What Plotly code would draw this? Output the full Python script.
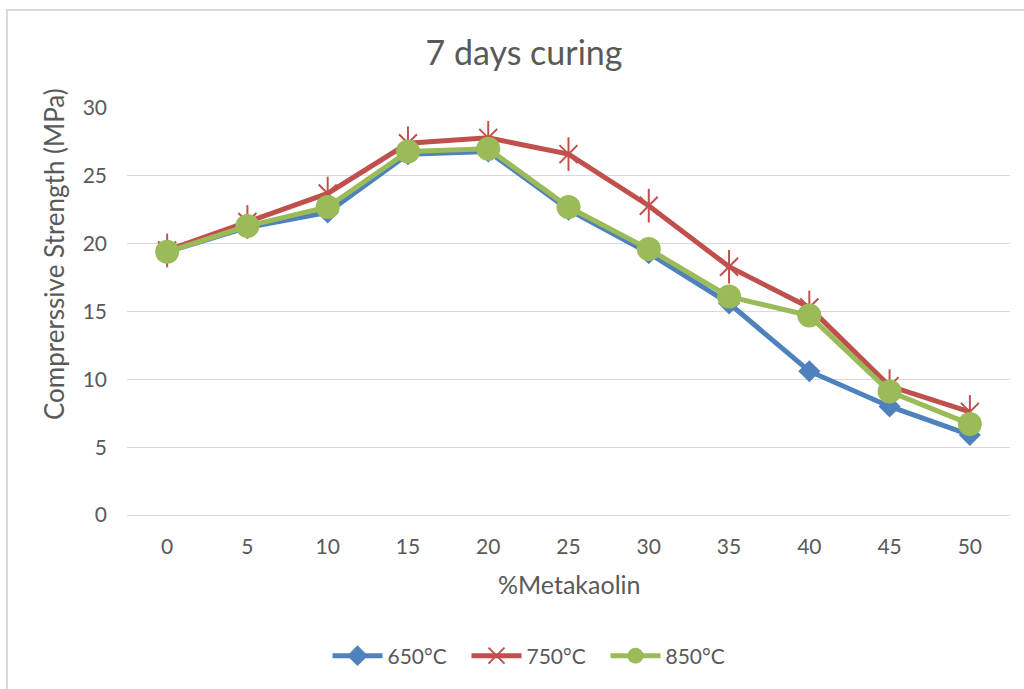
import plotly.graph_objects as go

# Metakaolin replacement level (%) and 7-day compressive strength (MPa)
metakaolin = [0, 5, 10, 15, 20, 25, 30, 35, 40, 45, 50]
strength_650 = [19.4, 21.2, 22.3, 26.6, 26.8, 22.5, 19.3, 15.6, 10.6, 8.0, 5.9]
strength_750 = [19.5, 21.6, 23.7, 27.4, 27.8, 26.6, 22.8, 18.3, 15.3, 9.5, 7.6]
strength_850 = [19.4, 21.3, 22.7, 26.8, 27.0, 22.7, 19.6, 16.1, 14.7, 9.1, 6.7]

y_ticks = [0, 5, 10, 15, 20, 25, 30]

BLUE = "#4F81BD"
RED = "#C0504D"
GREEN = "#9BBB59"
TEXT = "#595959"
GRID = "#D9D9D9"
FONT = "Lato, Open Sans, sans-serif"

W, H = 1024, 689
L, R, T, B = 127, 14, 108, 174
pw, ph = W - L - R, H - T - B


def px_x(x):
    return (x - L) / pw


def px_y(y):
    return (H - B - y) / ph


fig = go.Figure()

fig.add_trace(go.Scatter(
    x=metakaolin, y=strength_650, name="650°C", mode="lines+markers",
    line=dict(color=BLUE, width=5),
    marker=dict(symbol="diamond", size=17, color=BLUE),
))
fig.add_trace(go.Scatter(
    x=metakaolin, y=strength_750, name="750°C", mode="lines+markers",
    line=dict(color=RED, width=5),
    marker=dict(symbol="x-thin-open", size=18, color=RED,
                line=dict(color=RED, width=2)),
))
# vertical arm of the star marker
fig.add_trace(go.Scatter(
    x=metakaolin, y=strength_750, mode="markers", showlegend=False,
    hoverinfo="skip",
    marker=dict(symbol="line-ns-open", size=24, color=RED,
                line=dict(color=RED, width=2)),
))
fig.add_trace(go.Scatter(
    x=metakaolin, y=strength_850, name="850°C", mode="lines+markers",
    line=dict(color=GREEN, width=5),
    marker=dict(symbol="circle", size=24, color=GREEN),
))

fig.update_layout(
    width=W, height=H,
    margin=dict(l=L, r=R, t=T, b=B),
    paper_bgcolor="white", plot_bgcolor="white",
    font=dict(family=FONT, color=TEXT, size=21),
    title=dict(text="7 days curing", xref="container", x=524 / W,
               xanchor="center", yref="container", y=1 - 53 / H,
               yanchor="middle",
               font=dict(family=FONT, size=34, color=TEXT)),
    showlegend=True,
    legend=dict(orientation="h", x=px_x(536), xanchor="center",
                y=px_y(656), yanchor="middle",
                font=dict(family=FONT, size=21, color=TEXT),
                itemwidth=50, entrywidth=74, entrywidthmode="pixels",
                tracegroupgap=0, bgcolor="rgba(0,0,0,0)"),
    xaxis=dict(range=[-2.5, 52.5], tickvals=metakaolin,
               ticktext=[str(v) for v in metakaolin],
               showgrid=False, zeroline=False, showline=False,
               ticks="", ticklabelstandoff=17,
               tickfont=dict(family=FONT, size=21, color=TEXT)),
    yaxis=dict(range=[0, 30], tickvals=y_ticks,
               showgrid=True, gridcolor=GRID, gridwidth=1.3,
               zeroline=True, zerolinecolor=GRID, zerolinewidth=1.3,
               showline=False, ticks="", ticklabelstandoff=19,
               tickfont=dict(family=FONT, size=21, color=TEXT)),
    annotations=[
        dict(text="%Metakaolin", xref="paper", yref="paper",
             x=px_x(569), y=px_y(584), xanchor="center", yanchor="middle",
             showarrow=False, font=dict(family=FONT, size=25, color=TEXT)),
        dict(text="Comprerssive Strength (MPa)", xref="paper", yref="paper",
             x=px_x(54), y=px_y(254), xanchor="center", yanchor="middle",
             textangle=-90, showarrow=False,
             font=dict(family=FONT, size=26, color=TEXT)),
    ],
    shapes=[
        dict(type="rect", xref="paper", yref="paper",
             x0=px_x(7), x1=px_x(W + 10), y0=px_y(H + 10), y1=px_y(10),
             line=dict(color=GRID, width=2), fillcolor="rgba(0,0,0,0)",
             layer="below"),
    ],
)

fig.write_html("out.html")
